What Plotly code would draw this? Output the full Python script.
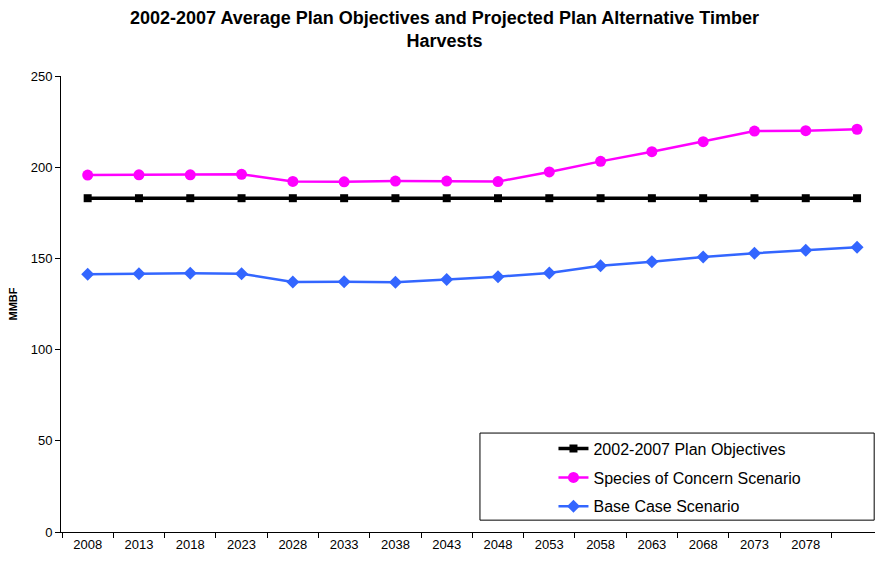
import plotly.graph_objects as go

year_labels = ["2008", "2013", "2018", "2023", "2028", "2033", "2038", "2043",
               "2048", "2053", "2058", "2063", "2068", "2073", "2078"]
n_points = 16
plan_objectives = [183.0] * 16
species_concern = [195.7, 195.8, 195.8, 196.1, 192.2, 192.0, 192.4, 192.4,
                   192.1, 197.4, 203.2, 208.5, 214.0, 219.8, 220.0, 220.8]
base_case = [141.3, 141.6, 141.8, 141.6, 137.1, 137.2, 136.9, 138.5,
             140.0, 142.0, 146.0, 148.2, 150.8, 152.8, 154.4, 156.1]

x = list(range(n_points))

fig = go.Figure()
fig.add_trace(go.Scatter(
    x=x, y=plan_objectives, name="2002-2007 Plan Objectives", mode="lines+markers",
    line=dict(color="#000000", width=3.5),
    marker=dict(symbol="square", size=8, color="#000000"),
    legendgroup="a", cliponaxis=False))
fig.add_trace(go.Scatter(
    x=x, y=species_concern, name="Species of Concern Scenario", mode="lines+markers",
    line=dict(color="#FF00FF", width=2.5),
    marker=dict(symbol="circle", size=11, color="#FF00FF"),
    legendgroup="b", cliponaxis=False))
fig.add_trace(go.Scatter(
    x=x, y=base_case, name="Base Case Scenario", mode="lines+markers",
    line=dict(color="#3366FF", width=2.5),
    marker=dict(symbol="diamond", size=10, color="#3366FF"),
    legendgroup="c", cliponaxis=False))

font = "Liberation Sans, Arial, sans-serif"

fig.update_layout(
    width=875, height=561,
    margin=dict(l=61, r=0, t=76, b=29),
    paper_bgcolor="white", plot_bgcolor="white",
    font=dict(family=font, size=12, color="#000000"),
    showlegend=True,
    legend=dict(
        x=0.605, xanchor="left", y=0.22, yanchor="top",
        bgcolor="rgba(0,0,0,0)", borderwidth=0,
        font=dict(family=font, size=16, color="#000000"),
        tracegroupgap=5, itemwidth=30),
    shapes=[dict(type="rect", xref="paper", yref="paper",
                 x0=0.5147, x1=0.999, y0=0.026, y1=0.217,
                 line=dict(color="#000000", width=1), fillcolor="white", layer="below")],
    annotations=[dict(
        text="<b>2002-2007 Average Plan Objectives and Projected Plan Alternative Timber<br>Harvests</b>",
        xref="paper", yref="paper", x=0.471, xanchor="center",
        y=1 + (76 - 6) / 456, yanchor="top", showarrow=False, align="center",
        font=dict(family=font, size=18, color="#000000"))],
)

fig.update_xaxes(
    range=[-0.52, 15.35], tickmode="array", tickvals=list(range(len(year_labels))),
    ticktext=year_labels, ticks="", showgrid=False, zeroline=False,
    showline=True, linecolor="#000000", linewidth=1,
    tickfont=dict(family=font, size=13),
    minor=dict(tickmode="array", tickvals=[i - 0.5 for i in range(n_points + 1)],
               ticks="outside", ticklen=5, tickcolor="#000000", showgrid=False))
fig.update_yaxes(
    range=[0, 250], dtick=50, ticks="outside", ticklen=5, tickcolor="#000000",
    showgrid=False, zeroline=False, showline=True, linecolor="#000000", linewidth=1,
    tickfont=dict(family=font, size=13),
    title=dict(text="<b>MMBF</b>", font=dict(family=font, size=11), standoff=10))

fig.write_html("out.html")
